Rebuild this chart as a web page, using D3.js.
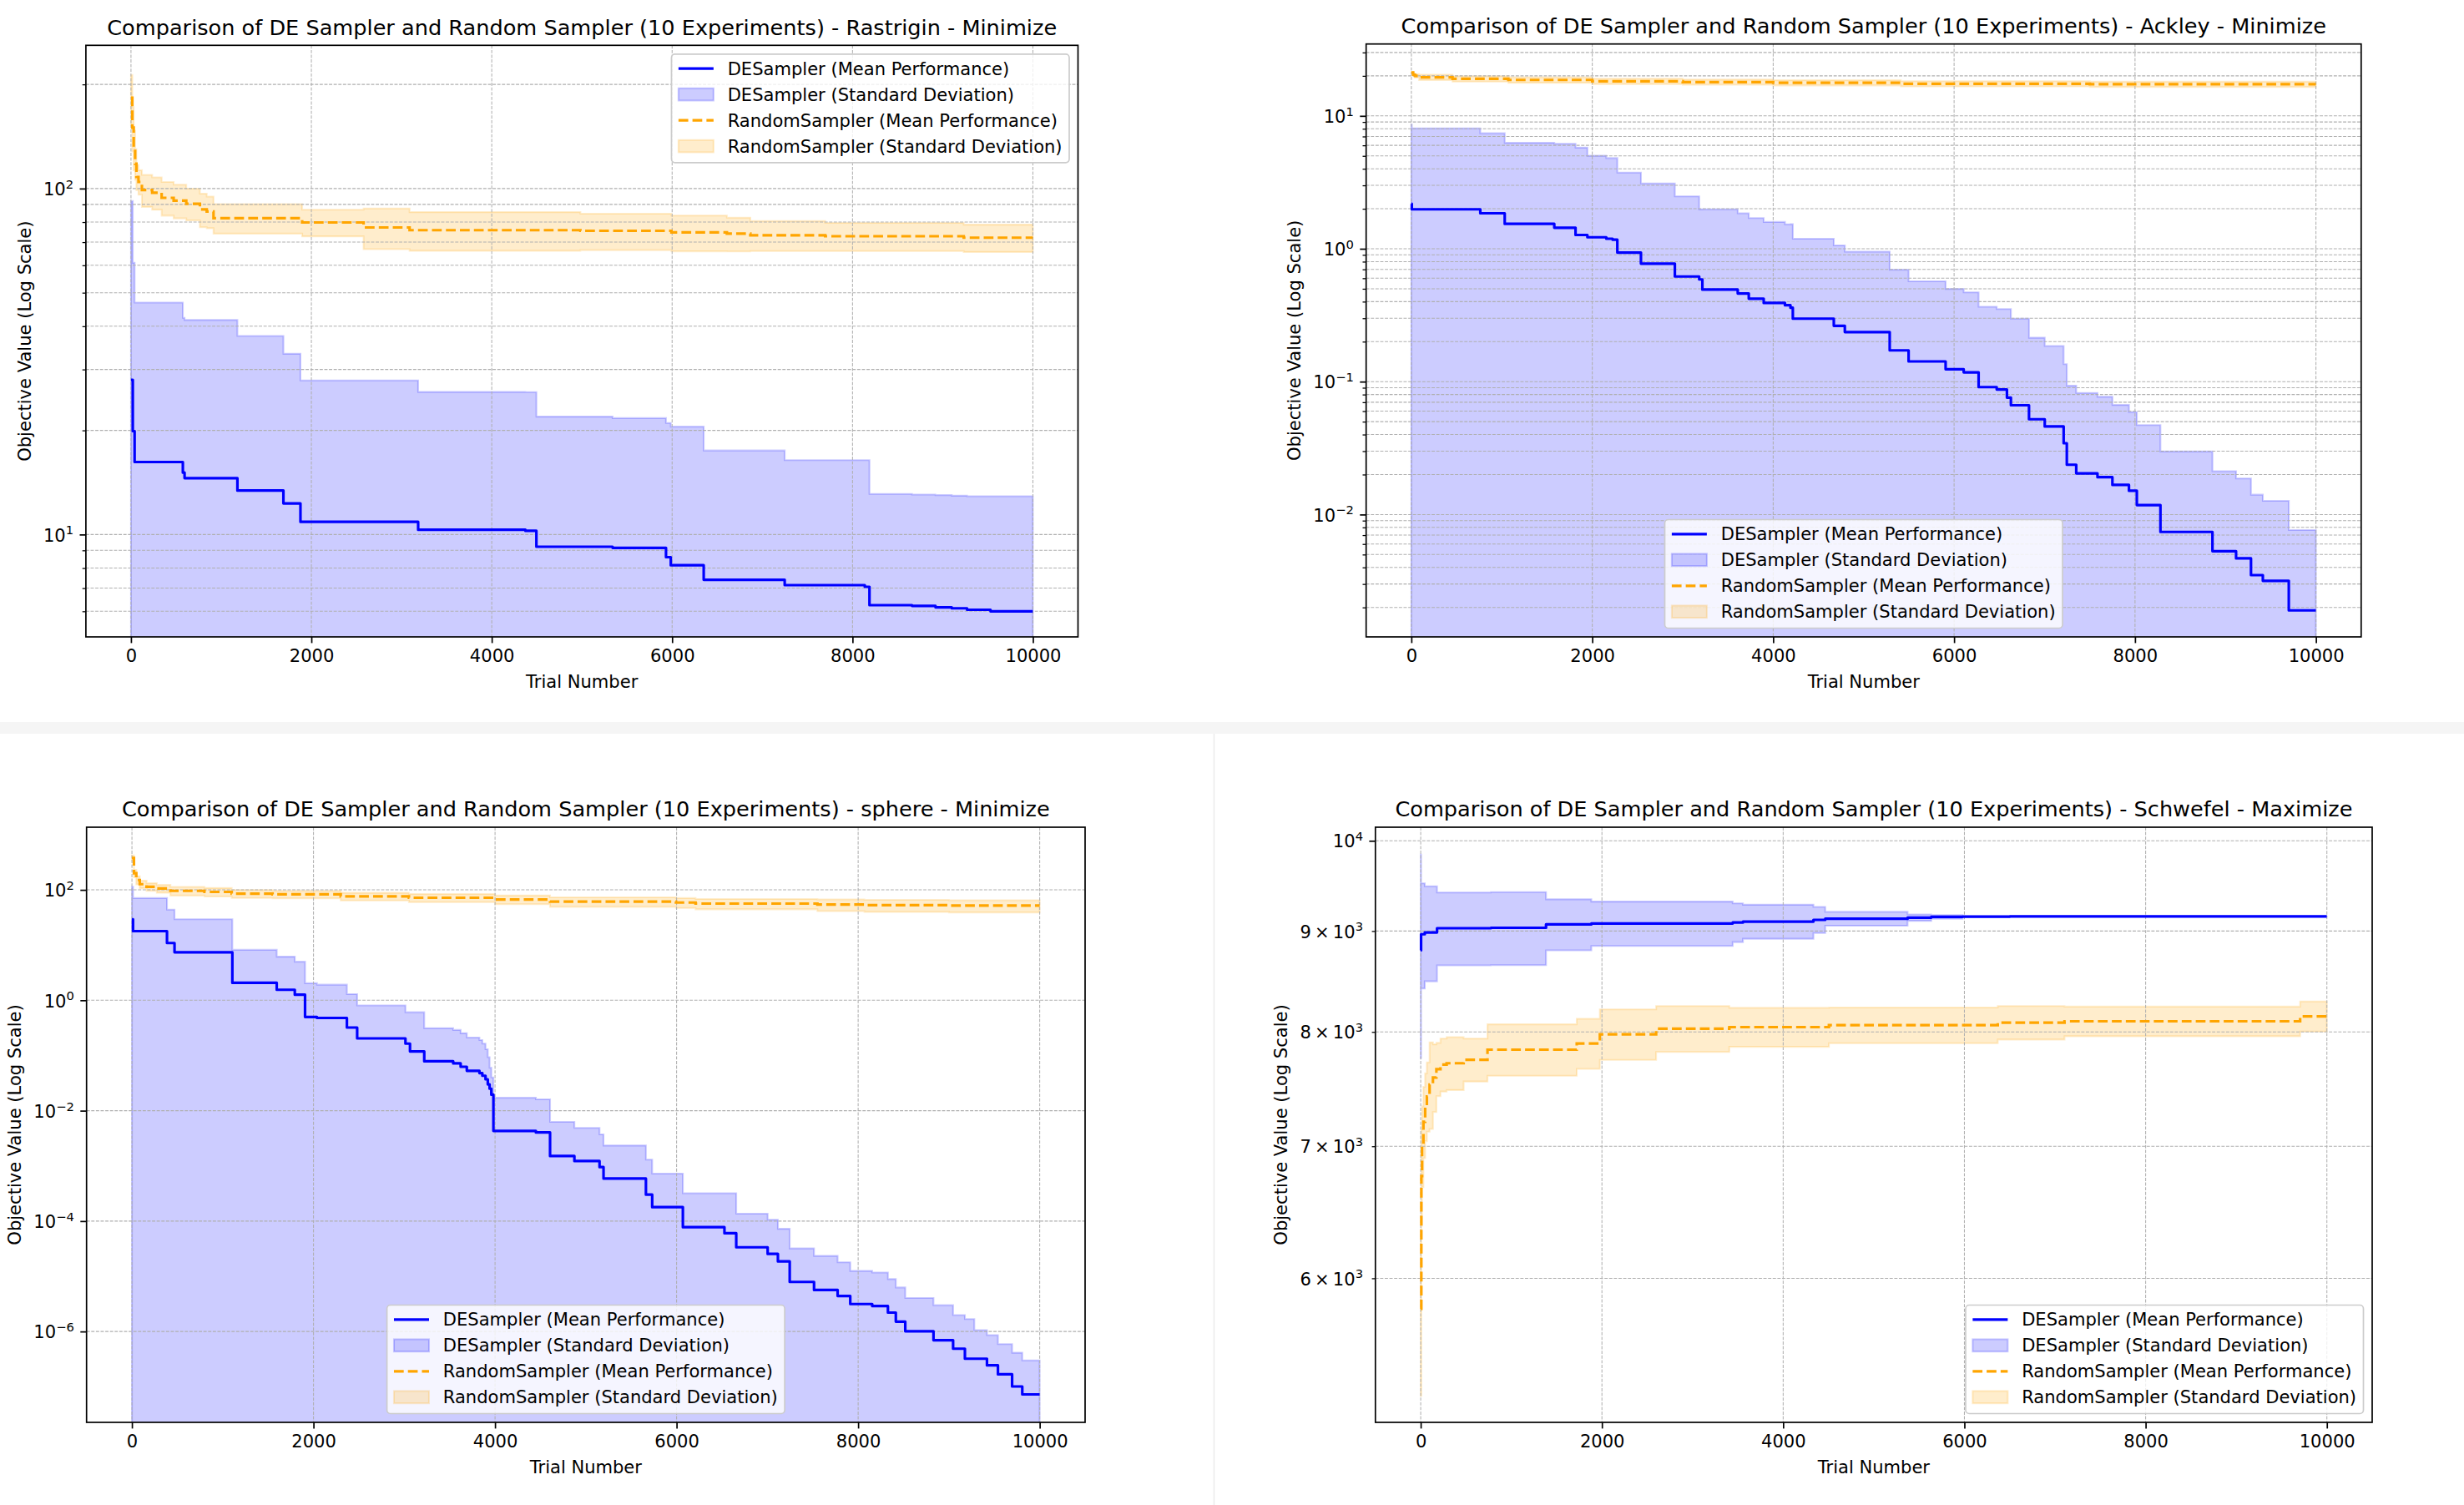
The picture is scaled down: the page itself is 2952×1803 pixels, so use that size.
<!DOCTYPE html>
<html>
<head>
<meta charset="utf-8">
<script src="https://cdn.jsdelivr.net/npm/d3@7"></script>
<style>
html,body{margin:0;padding:0;background:#fff;}
svg{display:block;}
text{font-family:"DejaVu Sans",sans-serif;}
</style>
</head>
<body>
<svg id="chart" width="2952" height="1803"></svg>
<script>
// ---------------- DATA ----------------
const trialTicks = [0, 2000, 4000, 6000, 8000, 10000];
const xAxisLabel = "Trial Number";
const yAxisLabel = "Objective Value (Log Scale)";
const legendLabels = [
  "DESampler (Mean Performance)",
  "DESampler (Standard Deviation)",
  "RandomSampler (Mean Performance)",
  "RandomSampler (Standard Deviation)"
];
const panelTitles = [
  "Comparison of DE Sampler and Random Sampler (10 Experiments) - Rastrigin - Minimize",
  "Comparison of DE Sampler and Random Sampler (10 Experiments) - Ackley - Minimize",
  "Comparison of DE Sampler and Random Sampler (10 Experiments) - sphere - Minimize",
  "Comparison of DE Sampler and Random Sampler (10 Experiments) - Schwefel - Maximize"
];

// Rastrigin
const rastriginDeTrials = [0,20,40,575,594,1180,1690,1879,3184,4373,4495,5340,5932,5985,6350,7248,8136,8188,8660,8920,9100,9270,9530];
const rastriginDeMean   = [28.0,19.9,16.2,15.1,14.55,13.4,12.3,10.88,10.32,10.25,9.22,9.15,8.6,8.15,7.40,7.14,7.06,6.25,6.22,6.16,6.12,6.06,6.0];
const rastriginDeStd    = [64,41.1,30.6,27.2,27.15,24.1,21.0,17.0,15.5,15.55,12.7,12.55,12.4,12.35,10.1,9.26,9.34,6.85,6.83,6.84,6.83,6.84,6.9];
const rastriginRsTrials = [0,15,30,46,60,83,121,235,340,473,613,764,840,915,1898,2579,3089,4983,5992,6607,6867,7697,9233];
const rastriginRsMean   = [183,150,130,118,108,104.5,99,97.3,94,92.3,90.4,87,85.8,82.1,79.8,77.2,75.8,75.5,74.7,74.1,73.3,72.8,72.1];
const rastriginRsStd    = [30,22,17,12,9,8.5,10.5,10.4,10.5,10.3,9.5,9.7,9,8,7.05,10.4,9.7,9.1,8.85,8.3,7.3,6.8,6.55];
const rastriginYMajor   = [10, 100];

// Ackley
const ackleyDeTrials = [0,5,762,1032,1580,1815,1946,2155,2225,2277,2538,2913,3182,3217,3608,3730,3895,4130,4191,4217,4670,4792,5288,5497,5906,6106,6271,6471,6584,6628,6828,7002,7211,7246,7350,7585,7750,7933,8020,8281,8856,9117,9282,9413,9700];
const ackleyDeMean   = [2.18,1.98,1.85,1.54,1.44,1.27,1.22,1.19,1.17,0.936,0.773,0.618,0.588,0.493,0.461,0.421,0.391,0.376,0.360,0.298,0.263,0.236,0.172,0.142,0.124,0.1175,0.091,0.0873,0.0758,0.0664,0.0521,0.0460,0.0344,0.0237,0.0204,0.0191,0.0167,0.0151,0.01178,0.0074,0.0053,0.00468,0.0035,0.00317,0.0019];
const ackleyDeStd    = [6.42,6.07,5.55,4.73,4.73,4.5,3.79,3.62,3.64,2.81,2.33,1.86,1.39,1.49,1.39,1.28,1.2,1.15,1.17,0.892,0.797,0.714,0.523,0.427,0.375,0.3525,0.275,0.2647,0.2762,0.2316,0.162,0.1395,0.1011,0.0695,0.0618,0.0578,0.0501,0.0439,0.0353,0.0224,0.0159,0.0140,0.0106,0.0095,0.00574];
const ackleyRsTrials = [0,20,40,86,455,1072,2000,3000,4000,5411,7500];
const ackleyRsMean   = [21.2,20.4,20.0,19.5,19.0,18.65,18.2,17.95,17.75,17.45,17.3];
const ackleyRsStd    = [0.2,0.4,0.6,0.9,0.9,0.9,0.85,0.8,0.8,0.8,0.8];
const ackleyYMajor   = [0.01, 0.1, 1, 10];

// sphere
const sphereDeTrials = [0,12,386,469,1106,1595,1794,1907,2038,2368,2481,3013,3063,3220,3539,3621,3689,3828,3860,3895,3920,3940,3959,3982,4450,4606,4874,5151,5195,5662,5731,6069,6527,6657,7003,7116,7246,7514,7774,7913,8155,8328,8415,8519,8830,9046,9176,9280,9419,9540,9696,9808];
const sphereDeMean   = [29.4,17.9,10.9,7.41,2.07,1.55,1.26,0.499,0.478,0.321,0.204,0.164,0.1186,0.0786,0.072,0.0625,0.0527,0.048,0.043,0.037,0.030,0.025,0.0195,0.0043,0.00404,0.00151,0.001225,0.000953,0.000589,0.000302,0.000179,7.75e-5,6.03e-5,3.35e-5,2.55e-5,1.86e-5,7.9e-6,5.65e-6,4.4e-6,3.14e-6,2.89e-6,2.2e-6,1.51e-6,1.01e-6,6.96e-7,4.88e-7,3.21e-7,3.21e-7,2.44e-7,1.68e-7,1.01e-7,7.26e-8];
const sphereDeStd    = [84.6,53.1,33,22,6.13,4.62,3.73,1.54,1.44,0.969,0.603,0.444,0.489,0.233,0.218,0.19,0.159,0.142,0.121,0.093,0.063,0.035,0.0205,0.01284,0.01203,0.00476,0.003655,0.002767,0.001751,0.000998,0.000547,0.0002425,0.00026,0.0001025,8.05e-5,5.39e-5,2.41e-5,1.775e-5,1.35e-5,9.36e-6,8.81e-6,6.7e-6,4.76e-6,3.03e-6,2.3e-6,1.49e-6,1.36e-6,7.4e-7,6.16e-7,4.22e-7,3.11e-7,2.27e-7];
const sphereRsTrials = [0,22,48,86,161,274,424,799,1099,1549,2300,3051,4000,4606,5993,6209,7551,8069,9000];
const sphereRsMean   = [380,200,151,127,114,106,96,92,85.5,83,76.4,72,67,61.4,59,56.5,54.2,53,52];
const sphereRsStd    = [40,30,25,20,18,17,17,16,14,13,12,12,12,12,12,12,13,13,13];
const sphereYMajor   = [1e-6, 1e-4, 1e-2, 1, 100];

// Schwefel
const schwefelDeTrials = [0,4,45,180,774,1383,1883,3443,3556,4334,4464,5373,5634,5980,6500];
const schwefelDeMean   = [8800,8966,8985,9030,9034,9070,9080,9090,9100,9118,9130,9142,9150,9152,9155];
const schwefelDeStd    = [1040,550,498,384,385,270,235,205,181,139,74,34,20,4,1];
const schwefelRsTrials = [0,7,15,30,49,68,98,135,173,218,286,474,737,1722,1977,2598,3406,4505,6368,7105,9705];
const schwefelRsMean   = [5790,6760,7004,7203,7332,7420,7523,7585,7660,7700,7713,7744,7836,7893,7978,8030,8045,8063,8087,8100,8147];
const schwefelRsStd    = [560,380,330,300,290,300,380,300,238,238,238,194,235,231,235,215,183,168,158,140,143];
const schwefelYMajor   = [10000];
const schwefelYMinor   = [6000, 7000, 8000, 9000];

// ---------------- STYLE / LAYOUT ----------------
const DE_COLOR = "#0000ff";
const RS_COLOR = "#ffa500";
const FS = 21.06, TITLE_FS = 25.6;
const xDomain = [-500, 10500];

function minorLog(domain) {
  const out = [];
  const lo = Math.floor(Math.log10(domain[0])), hi = Math.ceil(Math.log10(domain[1]));
  for (let e = lo; e <= hi; e++) for (let k = 2; k <= 9; k++) {
    const v = k * Math.pow(10, e);
    if (v >= domain[0] && v <= domain[1]) out.push(v);
  }
  return out;
}

const panels = [
  {box:{l:102.9,t:54.3,r:1291.5,b:763}, title:panelTitles[0], yDomain:[5.06,259.4],
   major:rastriginYMajor, minor:null, labelMinor:false, legend:"upper right",
   de:[rastriginDeTrials,rastriginDeMean,rastriginDeStd], rs:[rastriginRsTrials,rastriginRsMean,rastriginRsStd]},
  {box:{l:1636.7,t:52.7,r:2828.8,b:763}, title:panelTitles[1], yDomain:[0.0012,34.75],
   major:ackleyYMajor, minor:null, labelMinor:false, legend:"lower center",
   de:[ackleyDeTrials,ackleyDeMean,ackleyDeStd], rs:[ackleyRsTrials,ackleyRsMean,ackleyRsStd]},
  {box:{l:103.7,t:991,r:1300,b:1704}, title:panelTitles[2], yDomain:[2.26e-8,1365],
   major:sphereYMajor, minor:[], labelMinor:false, legend:"lower center",
   de:[sphereDeTrials,sphereDeMean,sphereDeStd], rs:[sphereRsTrials,sphereRsMean,sphereRsStd]},
  {box:{l:1647.8,t:991,r:2842,b:1704}, title:panelTitles[3], yDomain:[5071,10160],
   major:schwefelYMajor, minor:schwefelYMinor, labelMinor:true, legend:"lower right",
   de:[schwefelDeTrials,schwefelDeMean,schwefelDeStd], rs:[schwefelRsTrials,schwefelRsMean,schwefelRsStd]}
];

// ---------------- DRAW ----------------
const svg = d3.select("#chart");
svg.append("rect").attr("width",2952).attr("height",1803).attr("fill","#ffffff");
svg.append("rect").attr("x",0).attr("y",865).attr("width",2952).attr("height",14).attr("fill","#f5f5f5");
svg.append("line").attr("x1",1454.5).attr("x2",1454.5).attr("y1",879).attr("y2",1803)
  .attr("stroke","#ececec").attr("stroke-width",1.5);

function series(arr) {
  const [t, m, s] = arr;
  const pts = t.map((tt, i) => ({t: tt, m: m[i], s: s[i]}));
  const last = pts[pts.length - 1];
  pts.push({t: 9999, m: last.m, s: last.s});
  return pts;
}

function writeLogLabel(textSel, v) {
  let e = Math.floor(Math.log10(v) + 1e-9);
  const m = Math.round(v / Math.pow(10, e));
  textSel.append("tspan").text(m === 1 ? "10" : m + "\u2009\u00d7\u200910");
  textSel.append("tspan").attr("dy", -8.2).attr("font-size", FS * 0.7)
    .text(e < 0 ? "\u2212" + (-e) : String(e));
}

panels.forEach((p, idx) => {
  const {l, t, r, b} = p.box;
  const x = d3.scaleLinear().domain(xDomain).range([l, r]);
  const y = d3.scaleLog().domain(p.yDomain).range([b, t]);
  const minor = p.minor === null ? minorLog(p.yDomain) : p.minor;
  const g = svg.append("g");
  const clipId = "clip" + idx;
  g.append("clipPath").attr("id", clipId).append("rect")
    .attr("x", l).attr("y", t).attr("width", r - l).attr("height", b - t);
  const plot = g.append("g").attr("clip-path", `url(#${clipId})`);

  const floor = p.yDomain[0] / 10;
  const area = d3.area().curve(d3.curveStepAfter)
    .x(d => x(d.t)).y0(d => y(Math.max(d.m - d.s, floor))).y1(d => y(d.m + d.s));
  const line = d3.line().curve(d3.curveStepAfter).x(d => x(d.t)).y(d => y(d.m));
  const de = series(p.de), rs = series(p.rs);

  plot.append("path").datum(de).attr("d", area)
    .attr("fill", DE_COLOR).attr("fill-opacity", 0.2)
    .attr("stroke", DE_COLOR).attr("stroke-opacity", 0.2).attr("stroke-width", 2.1);
  plot.append("path").datum(rs).attr("d", area)
    .attr("fill", RS_COLOR).attr("fill-opacity", 0.2)
    .attr("stroke", RS_COLOR).attr("stroke-opacity", 0.2).attr("stroke-width", 2.1);

  // grid
  const grid = plot.append("g").attr("stroke", "#b0b0b0").attr("stroke-width", 1.05)
    .attr("stroke-dasharray", "3.9,1.7");
  trialTicks.forEach(v => grid.append("line").attr("x1", x(v)).attr("x2", x(v)).attr("y1", t).attr("y2", b));
  p.major.concat(minor).forEach(v => grid.append("line").attr("x1", l).attr("x2", r).attr("y1", y(v)).attr("y2", y(v)));

  // mean lines
  plot.append("path").datum(de).attr("d", line).attr("fill", "none")
    .attr("stroke", DE_COLOR).attr("stroke-width", 3.16).attr("stroke-linejoin", "round");
  plot.append("path").datum(rs).attr("d", line).attr("fill", "none")
    .attr("stroke", RS_COLOR).attr("stroke-width", 3.16).attr("stroke-dasharray", "11.7,5.05");

  // spines
  g.append("rect").attr("x", l).attr("y", t).attr("width", r - l).attr("height", b - t)
    .attr("fill", "none").attr("stroke", "#000").attr("stroke-width", 1.7);

  // x axis
  const xa = g.append("g").attr("transform", `translate(0,${b})`)
    .call(d3.axisBottom(x).tickValues(trialTicks).tickSize(7.4).tickPadding(7.4).tickSizeOuter(0).tickFormat(d3.format("d")));
  xa.select(".domain").remove();
  xa.selectAll(".tick line").attr("stroke", "#000").attr("stroke-width", 1.7);
  xa.selectAll(".tick text").attr("font-size", FS).attr("fill", "#000").attr("font-family", '"DejaVu Sans", sans-serif');

  // y axis major
  const ya = g.append("g").attr("transform", `translate(${l},0)`)
    .call(d3.axisLeft(y).tickValues(p.major).tickSize(7.4).tickSizeOuter(0).tickFormat(""));
  ya.select(".domain").remove();
  ya.selectAll(".tick line").attr("stroke", "#000").attr("stroke-width", 1.7);
  // y axis minor
  const ym = g.append("g").attr("transform", `translate(${l},0)`)
    .call(d3.axisLeft(y).tickValues(minor).tickSize(4.2).tickSizeOuter(0).tickFormat(""));
  ym.select(".domain").remove();
  ym.selectAll(".tick line").attr("stroke", "#000").attr("stroke-width", 1.26);

  const labelVals = p.labelMinor ? p.major.concat(minor) : p.major;
  const labels = g.append("g");
  labelVals.forEach(v => {
    const tx = labels.append("text").attr("x", l - 14.8).attr("y", y(v) + 8.2)
      .attr("text-anchor", "end").attr("font-size", FS).attr("fill", "#000");
    writeLogLabel(tx, v);
  });
  const lb = labels.node().getBBox();

  // axis labels & title
  g.append("text").attr("x", (l + r) / 2).attr("y", b + 61).attr("text-anchor", "middle")
    .attr("font-size", FS).attr("fill", "#000").text(xAxisLabel);
  const ylx = lb.x - 15.3;
  g.append("text").attr("transform", `translate(${ylx},${(t + b) / 2}) rotate(-90)`)
    .attr("text-anchor", "middle").attr("font-size", FS).attr("fill", "#000").text(yAxisLabel);
  g.append("text").attr("x", (l + r) / 2).attr("y", t - 12.7).attr("text-anchor", "middle")
    .attr("font-size", TITLE_FS).attr("fill", "#000").text(p.title);

  // legend
  const lg = g.append("g");
  const frame = lg.append("rect");
  let maxW = 0;
  const texts = legendLabels.map(s => {
    const tx = lg.append("text").attr("font-size", FS).attr("fill", "#000").text(s);
    maxW = Math.max(maxW, tx.node().getComputedTextLength());
    return tx;
  });
  const pad = 8.4, hl = 42, htp = 16.8;
  const w = pad + hl + htp + maxW + pad, h = 130;
  let lx, ly;
  if (p.legend === "upper right") { lx = r - 10.5 - w; ly = t + 10.5; }
  else if (p.legend === "lower center") { lx = (l + r) / 2 - w / 2; ly = b - 10.5 - h; }
  else { lx = r - 10.5 - w; ly = b - 10.5 - h; }
  frame.attr("x", lx).attr("y", ly).attr("width", w).attr("height", h).attr("rx", 4.2)
    .attr("fill", "#fff").attr("fill-opacity", 0.8).attr("stroke", "#cccccc").attr("stroke-width", 1.7);
  texts.forEach((tx, i) => {
    const cy = ly + 17.3 + 31 * i;
    tx.attr("x", lx + pad + hl + htp).attr("y", cy + 7.65);
    const color = i < 2 ? DE_COLOR : RS_COLOR;
    if (i % 2 === 0) {
      const ln = lg.append("line").attr("x1", lx + pad).attr("x2", lx + pad + hl).attr("y1", cy).attr("y2", cy)
        .attr("stroke", color).attr("stroke-width", 3.16);
      if (i === 2) ln.attr("stroke-dasharray", "11.7,5.05");
    } else {
      lg.append("rect").attr("x", lx + pad).attr("y", cy - 7.35).attr("width", hl).attr("height", 14.7)
        .attr("fill", color).attr("fill-opacity", 0.2)
        .attr("stroke", color).attr("stroke-opacity", 0.2).attr("stroke-width", 2.1);
    }
  });
});
</script>
</body>
</html>
